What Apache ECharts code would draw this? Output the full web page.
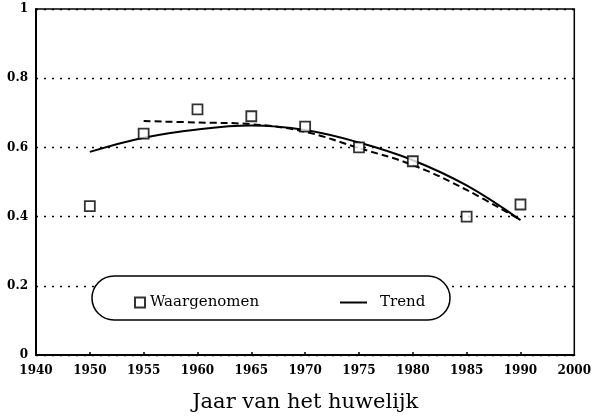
<!DOCTYPE html>
<html>
<head>
<meta charset="utf-8">
<script src="https://cdn.jsdelivr.net/npm/echarts@6/dist/echarts.min.js"></script>
<style>
    html, body { margin: 0; padding: 0; background: #fff; }
    #chart { width: 594px; height: 420px; }
</style>
</head>
<body>
<div id="chart"></div>
<script>
    // jaren (gelijk verdeeld, zoals in het origineel)
    var years = ['1940', '1950', '1955', '1960', '1965', '1970', '1975', '1980', '1985', '1990', '2000'];
    var observed = [null, 0.43, 0.64, 0.71, 0.69, 0.66, 0.60, 0.56, 0.40, 0.435, null];
    var trend = [null, 0.587, 0.628, 0.652, 0.663, 0.65, 0.614, 0.563, 0.49, 0.39, null];
    var trend2 = [null, null, 0.676, 0.672, 0.667, 0.645, 0.598, 0.549, 0.477, 0.39, null];
    var yTicks = [0, 0.2, 0.4, 0.6, 0.8, 1];

    var serif = 'DejaVu Serif';
    var chart = echarts.init(document.getElementById('chart'), null, { renderer: 'canvas' });

    chart.setOption({
        animation: false,
        backgroundColor: '#fff',
        textStyle: { fontFamily: serif, color: '#000' },
        grid: {
            left: 36, right: 18, top: 9, bottom: 65,
            show: true, borderColor: '#000', borderWidth: 1.5
        },
        graphic: [{
            type: 'rect',
            z: 5,
            shape: { x: 92, y: 276, width: 358, height: 44, r: 22 },
            style: { fill: '#fff', stroke: '#000', lineWidth: 1.5 }
        }],
        legend: [
            {
                z: 10, left: 129, top: 290,
                data: [{ name: 'Waargenomen', icon: 'rect' }],
                itemWidth: 10, itemHeight: 10, itemGap: 6,
                textStyle: { fontFamily: serif, fontSize: 15, color: '#000' }
            },
            {
                z: 10, left: 335, top: 290,
                data: [{ name: 'Trend', icon: 'path://M0,0 L27,0 L27,2 L0,2 Z' }],
                itemWidth: 27, itemHeight: 2,
                itemStyle: { color: '#000' },
                textStyle: { fontFamily: serif, fontSize: 15, color: '#000', padding: [0, 0, 0, 8] }
            }
        ],
        xAxis: {
            type: 'category',
            data: years,
            boundaryGap: false,
            name: 'Jaar van het huwelijk',
            nameLocation: 'middle',
            nameGap: 37,
            nameTextStyle: { fontFamily: serif, fontSize: 21, color: '#000' },
            axisLine: { lineStyle: { color: '#000', width: 2 } },
            axisTick: {
                inside: true, length: 3,
                interval: function (i) { return i > 0 && i < years.length - 1; },
                lineStyle: { color: '#000', width: 1.5 }
            },
            axisLabel: { fontFamily: serif, fontSize: 12, fontWeight: 'bold', color: '#000', margin: 10, interval: 0 },
            splitLine: { show: false }
        },
        yAxis: {
            type: 'value',
            min: yTicks[0], max: yTicks[yTicks.length - 1], interval: 0.2,
            axisLine: { show: true, lineStyle: { color: '#000', width: 2 } },
            axisTick: { show: false },
            axisLabel: { fontFamily: serif, fontSize: 12, fontWeight: 'bold', color: '#000', margin: 8 },
            splitLine: {
                show: true,
                lineStyle: { color: '#000', width: 1.4, type: [2, 6] }
            }
        },
        series: [
            {
                name: 'Waargenomen',
                type: 'scatter',
                symbol: 'rect',
                symbolSize: 10,
                z: 4,
                itemStyle: { color: '#fff', borderColor: '#000', borderWidth: 1.8 },
                data: observed
            },
            {
                name: 'Trend',
                type: 'line',
                smooth: 0.4,
                showSymbol: false,
                z: 3,
                lineStyle: { color: '#000', width: 2 },
                itemStyle: { color: '#000' },
                data: trend
            },
            {
                name: 'Trend2',
                type: 'line',
                smooth: 0.4,
                showSymbol: false,
                z: 3,
                lineStyle: { color: '#000', width: 2, type: [7, 4] },
                data: trend2
            }
        ]
    });
</script>
</body>
</html>
